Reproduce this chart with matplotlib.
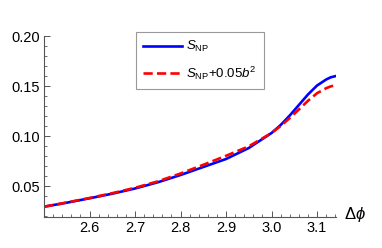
import matplotlib

matplotlib.use("Agg")
import matplotlib.pyplot as plt
from matplotlib.ticker import MultipleLocator, FormatStrFormatter

# curve values
dphi = [2.50, 2.55, 2.60, 2.65, 2.70, 2.75, 2.80, 2.85, 2.90, 2.95,
        3.00, 3.02, 3.04, 3.06, 3.08, 3.10, 3.12, 3.13, 3.1416]
s_np = [0.0293, 0.0333, 0.0377, 0.0423, 0.0475, 0.0537, 0.0610, 0.0690,
        0.0770, 0.0880, 0.1030, 0.1110, 0.1205, 0.1310, 0.1415, 0.1505,
        0.1565, 0.1587, 0.1600]
s_np_b2 = [0.0293, 0.0335, 0.0380, 0.0428, 0.0482, 0.0546, 0.0625, 0.0712,
           0.0802, 0.0897, 0.1030, 0.1100, 0.1180, 0.1265, 0.1352, 0.1428,
           0.1478, 0.1496, 0.1510]

plt.rcParams["font.family"] = ["Liberation Sans", "DejaVu Sans"]
plt.rcParams["mathtext.fontset"] = "custom"
plt.rcParams["mathtext.rm"] = "Liberation Sans"
plt.rcParams["mathtext.it"] = "Liberation Sans:italic"

W, H = 382, 248
fig = plt.figure(figsize=(W / 100, H / 100), dpi=100)
ax = fig.add_axes([44 / W, 1 - 217 / H, (336 - 44) / W, (217 - 36) / H])

ax.plot(dphi, s_np, color="#0000ff", lw=1.9, label=r"$S_{\rm NP}$")
ax.plot(dphi, s_np_b2, color="#ff0000", lw=1.9, ls=(0, (3.5, 1.6)),
        label=r"$S_{\rm NP}$+0.05$b^2$")

ax.set_xlim(2.5, 3.1416)
ax.set_ylim(0.019, 0.20)
ax.xaxis.set_major_locator(MultipleLocator(0.1))
ax.xaxis.set_minor_locator(MultipleLocator(0.02))
ax.yaxis.set_major_locator(MultipleLocator(0.05))
ax.yaxis.set_minor_locator(MultipleLocator(0.01))
ax.xaxis.set_major_formatter(FormatStrFormatter("%.1f"))
ax.yaxis.set_major_formatter(FormatStrFormatter("%.2f"))
ax.set_xticks([2.6, 2.7, 2.8, 2.9, 3.0, 3.1])

for side in ("top", "right"):
    ax.spines[side].set_visible(False)
for side in ("left", "bottom"):
    ax.spines[side].set_color("#555555")
    ax.spines[side].set_linewidth(0.8)
ax.tick_params(which="major", direction="in", length=4, width=0.7,
               color="#555555", labelsize=10.5, pad=3)
ax.tick_params(which="minor", direction="in", length=2, width=0.6,
               color="#555555")

leg = ax.legend(loc="upper left", bbox_to_anchor=(136 / W, 1 - 32 / H),
                bbox_transform=fig.transFigure, fontsize=9.5,
                handlelength=2.9, labelspacing=0.75, borderpad=0.55,
                handletextpad=0.35, fancybox=False, framealpha=1,
                edgecolor="#999999", borderaxespad=0)
leg.get_frame().set_linewidth(0.8)

fig.text(344 / W, 1 - 215 / H, r"$\Delta\phi$", fontsize=12, va="center",
         ha="left")

fig.savefig("out.png", dpi=100)
